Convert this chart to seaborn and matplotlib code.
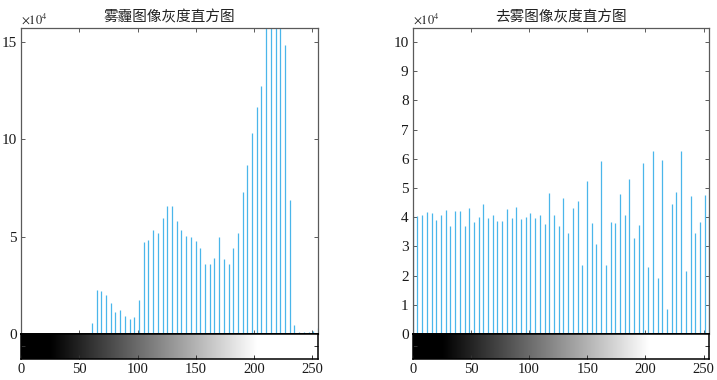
import numpy as np
import matplotlib
matplotlib.use('Agg')
import matplotlib.pyplot as plt
import seaborn as sns


# 64 grey-level bins, counts in units of 10^4
gray_bins = np.linspace(0, 255, 64)

haze_counts = [0, 0, 0, 0, 0, 0, 0, 0, 0, 0, 0, 0, 0, 0, 0,
               0.58, 2.27, 2.23, 1.99, 1.58, 1.14, 1.22, 0.93, 0.79, 0.88,
               1.74, 4.70, 4.81, 5.32, 5.21, 5.95, 6.55, 6.55, 5.79, 5.32,
               5.05, 5.00, 4.76, 4.41, 3.57, 3.57, 3.90, 5.00, 3.87, 3.61,
               4.41, 5.21, 7.29, 8.65, 10.32, 11.66, 12.75, 17.0, 19.5, 18.0,
               16.5, 14.83, 6.90, 0.44, 0.10, 0.08, 0.10, 0.16, 0.30]

dehaze_counts = [4.05,
                 4.05, 4.09, 4.16, 4.13, 3.89, 4.06, 4.26, 3.69, 4.22, 4.22,
                 3.69, 4.32, 3.82, 3.99, 4.46, 3.96, 4.09, 3.87, 3.87, 4.29,
                 3.96, 4.34, 3.93, 4.00, 4.13, 3.96, 4.06, 3.77, 4.82, 4.09,
                 3.69, 4.65, 3.47, 4.32, 4.55, 2.37, 5.25, 3.80, 3.09, 5.91,
                 2.35, 3.83, 3.80, 4.79, 4.06, 5.31, 3.28, 3.73, 5.87, 2.28,
                 6.28, 1.92, 5.97, 0.84, 4.46, 4.85, 6.26, 2.14, 4.72, 3.47,
                 3.83, 4.75,
                 4.10]

titles = ['雾霾图像灰度直方图', '去雾图像灰度直方图']
x_ticks = [0, 50, 100, 150, 200, 250]
haze_yticks = [0, 5, 10, 15]
dehaze_yticks = list(range(0, 11))
ylims = [15.7, 10.47]

# grey ramp shown under each histogram
ramp_black, ramp_white = 25, 203

stem_color = '#4ab6ea'
frame_color = '#5a5a5a'


def draw_histogram(fig, left, counts, title, yticks, ytop):
    ax = fig.add_axes([left, 0.121, 0.4138, 0.805])
    ax.vlines(gray_bins, 0, counts, color=stem_color, linewidth=0.9)
    ax.set_xlim(0, 255)
    ax.set_ylim(0, ytop)
    ax.set_xticks(x_ticks)
    ax.set_xticklabels([])
    ax.set_yticks(yticks)
    ax.set_yticklabels([str(t) for t in yticks], fontsize=11)
    ax.tick_params(direction='in', length=3, width=0.7, color=frame_color,
                   top=True, right=True, left=True, bottom=True, pad=3,
                   labelcolor='#1a1a1a')
    for side in ['left', 'right', 'top']:
        ax.spines[side].set_color(frame_color)
        ax.spines[side].set_linewidth(0.9)
    ax.spines['bottom'].set_color('black')
    ax.spines['bottom'].set_linewidth(1.4)
    ax.set_title(title, fontsize=10.5, pad=5, color='#222222',
                 family=['Noto Sans CJK SC', 'DejaVu Sans'])
    ax.text(0.0, 1.004, r'$\times10^{4}$', transform=ax.transAxes,
            ha='left', va='bottom', fontsize=9, color='#222222')

    cb = fig.add_axes([left, 0.0553, 0.4138, 0.0658])
    x = np.linspace(0, 255, 512)
    ramp = np.clip((x - ramp_black) / (ramp_white - ramp_black), 0, 1)
    cb.imshow(ramp[np.newaxis, :], extent=[0, 255, 0, 1], aspect='auto',
              cmap='gray', vmin=0, vmax=1, interpolation='bilinear')
    cb.set_xlim(0, 255)
    cb.set_ylim(0, 1)
    cb.set_xticks(x_ticks)
    cb.set_xticklabels([str(t) for t in x_ticks], fontsize=10.5)
    cb.set_yticks([0.5])
    cb.set_yticklabels([])
    cb.tick_params(direction='in', length=3, width=0.7, color='#333333',
                   right=True, left=True, bottom=True, pad=3,
                   labelcolor='#1a1a1a')
    for side in cb.spines:
        cb.spines[side].set_color('black')
        cb.spines[side].set_linewidth(1.1)
    return ax


sns.set_theme(style='white')
plt.rcParams['font.family'] = ['Liberation Serif', 'Noto Sans CJK SC', 'DejaVu Sans']
plt.rcParams['mathtext.fontset'] = 'stix'

fig = plt.figure(figsize=(7.17, 3.80), dpi=100)
draw_histogram(fig, 0.0297, haze_counts, titles[0], haze_yticks, ylims[0])
draw_histogram(fig, 0.5756, dehaze_counts, titles[1], dehaze_yticks, ylims[1])

fig.savefig('out.png', dpi=100)
